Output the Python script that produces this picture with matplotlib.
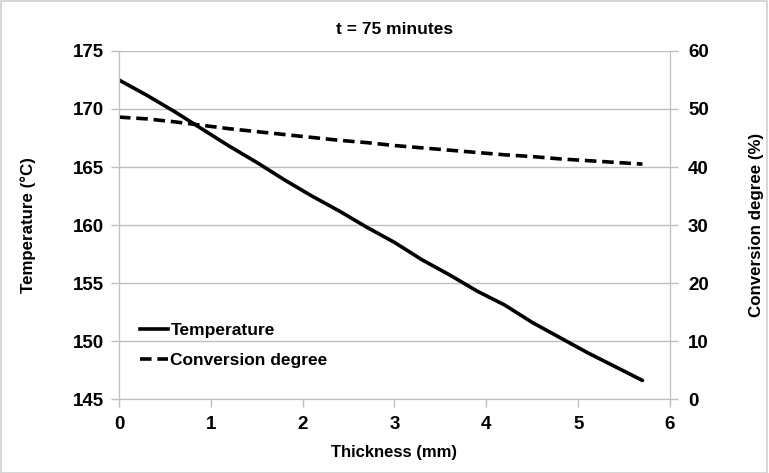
"""Temperature and conversion degree across the thickness at t = 75 minutes."""
import numpy as np
import matplotlib; matplotlib.use("Agg"); import matplotlib.pyplot as plt
from matplotlib.lines import Line2D
from matplotlib.patches import Rectangle

thickness = [0.0, 0.3, 0.6, 0.9, 1.2, 1.5, 1.8, 2.1, 2.4, 2.7,
             3.0, 3.3, 3.6, 3.9, 4.2, 4.5, 4.8, 5.1, 5.4, 5.7]
temperature = [172.5, 171.2, 169.8, 168.3, 166.8, 165.4, 163.9, 162.5, 161.2, 159.8,
               158.5, 157.0, 155.7, 154.3, 153.1, 151.6, 150.3, 149.0, 147.8, 146.6]
conversion = [48.6, 48.3, 47.8, 47.2, 46.6, 46.1, 45.6, 45.1, 44.6, 44.2,
              43.7, 43.3, 42.9, 42.5, 42.1, 41.8, 41.4, 41.1, 40.8, 40.5]

GRID = "#bfbfbf"
plt.rcParams["font.family"] = ["Liberation Sans", "DejaVu Sans"]
plt.rcParams["font.weight"] = "bold"

fig = plt.figure(figsize=(7.69, 4.73), dpi=100)
fig.patches.append(Rectangle((0.001, 0.001), 0.997, 0.996, transform=fig.transFigure,
                             fill=False, edgecolor="#d0d0d0", lw=1.2))
ax = fig.add_axes([0.1547, 0.1564, 0.7166, 0.7358])
ax2 = ax.twinx()

ax.plot(thickness, temperature, color="black", lw=2.6, solid_capstyle="round")
ax2.plot(thickness, conversion, color="black", lw=2.6, ls=(0, (3.2, 1.6)))

ax.set_xlim(0, 6); ax.set_ylim(145, 175); ax2.set_ylim(0, 60)
ax.set_xticks(np.arange(0, 7, 1)); ax.set_yticks(np.arange(145, 176, 5))
ax2.set_yticks(np.arange(0, 61, 10))
ax.yaxis.grid(True, color=GRID, lw=1); ax.set_axisbelow(True)

for a in (ax, ax2):
    for s in a.spines.values():
        s.set_color(GRID)
    a.spines["top"].set_visible(False)
    a.tick_params(colors=GRID, labelcolor="black", labelsize=13.5, length=6, width=1)
    for lab in a.get_xticklabels() + a.get_yticklabels():
        lab.set_fontweight("bold")
ax.tick_params(axis="y", pad=5); ax2.tick_params(axis="y", pad=7)
ax.tick_params(axis="x", pad=6)

ax.set_xlabel("Thickness (mm)", fontsize=12, fontweight="bold", labelpad=9)
ax.set_ylabel("Temperature (°C)", fontsize=12.2, fontweight="bold", labelpad=26)
ax2.set_ylabel("Conversion degree (%)", fontsize=12.2, fontweight="bold", rotation=90, labelpad=29)
ax.set_title("t = 75 minutes", fontsize=12.5, fontweight="bold", pad=12)

handles = [Line2D([], [], color="black", lw=2.6),
           Line2D([], [], color="black", lw=2.6, ls=(0, (3.2, 1.6)))]
ax.legend(handles, ["Temperature", "Conversion degree"], loc="lower left",
          bbox_to_anchor=(0.01, 0.045), frameon=False, handlelength=1.6,
          handletextpad=0.15, labelspacing=0.85, prop={"weight": "bold", "size": 12.5})

fig.savefig("out.png", dpi=100)
